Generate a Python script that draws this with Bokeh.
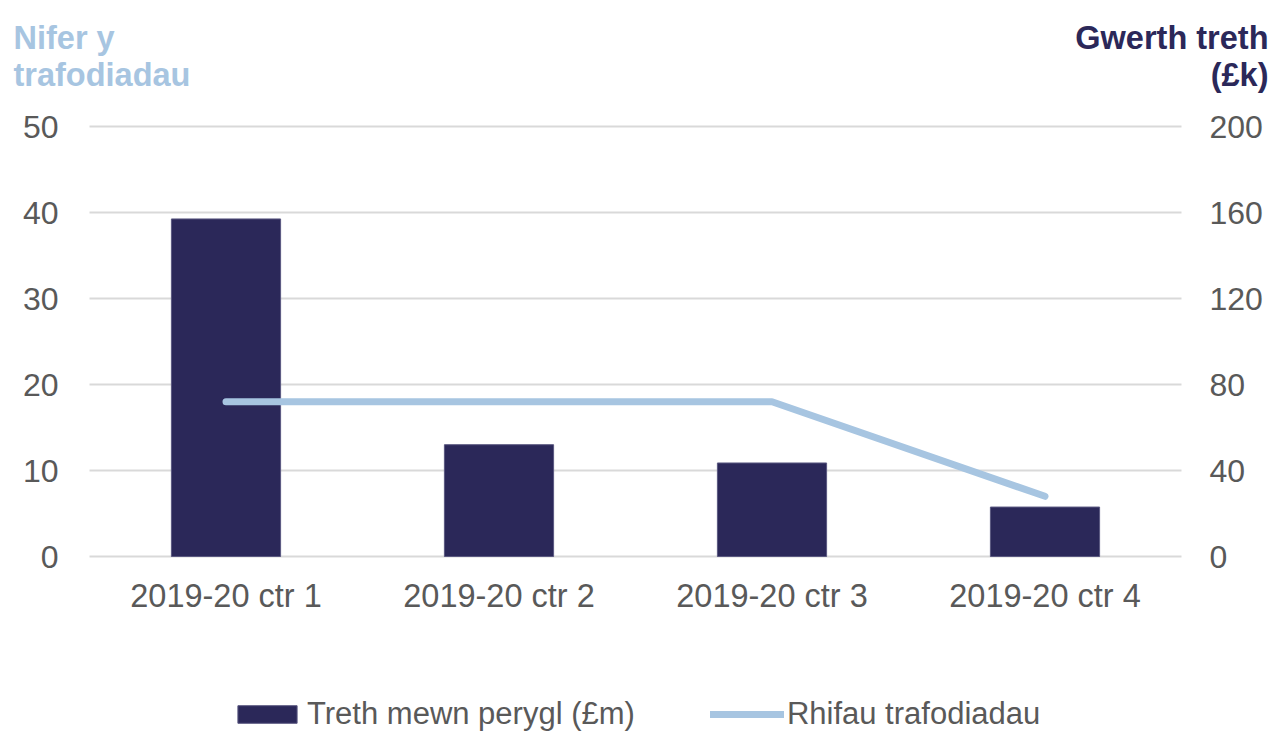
from bokeh.plotting import figure
from bokeh.models import (LinearAxis, Range1d, Legend, LegendItem, Label,
                          FactorRange, FixedTicker)
from bokeh.embed import file_html
from bokeh.resources import INLINE

# ---- data ----
quarters = ["2019-20 ctr 1", "2019-20 ctr 2", "2019-20 ctr 3", "2019-20 ctr 4"]
tax_value = [157, 52, 43.5, 23]          # bars, right axis (Gwerth treth £k)
transactions = [18, 18, 18, 7]           # line, left axis (Nifer y trafodiadau)
left_ticks = [0, 10, 20, 30, 40, 50]
right_ticks = [0, 40, 80, 120, 160, 200]
bar_label = "Treth mewn perygl (£m)"
line_label = "Rhifau trafodiadau"
left_title = ["Nifer y", "trafodiadau"]
right_title = ["Gwerth treth", "(£k)"]

FONT = "Liberation Sans"
NAVY = "#2B2859"
LIGHT = "#A7C5E1"
GREY = "#595959"
GRID = "#D9D9D9"

W, H = 1273, 733
PX_PER_UNIT = 8.6          # left-axis scale (pixels per unit)
Y0_PX, BAND_PX = 556, 273  # pixel row of value 0, width of one category band

# frame spans the whole canvas; value 0 sits Y0_PX from the top
y_start = -(H - Y0_PX) / PX_PER_UNIT
y_end = y_start + H / PX_PER_UNIT

p = figure(x_range=FactorRange(*quarters, range_padding=89 / BAND_PX,
                               range_padding_units="absolute"),
           y_range=Range1d(y_start, y_end),
           width=W, height=H, output_backend="svg", toolbar_location=None,
           min_border=0, min_border_left=0, min_border_right=3,
           min_border_top=0, min_border_bottom=0)
p.extra_y_ranges = {"right": Range1d(y_start * 4, y_end * 4)}
p.outline_line_color = None
p.xgrid.visible = False
p.ygrid.visible = False

# horizontal gridlines spanning the category bands
n = len(left_ticks)
p.segment(x0=[0] * n, x1=[len(quarters)] * n, y0=left_ticks, y1=left_ticks,
          line_color=GRID, line_width=2)

bars = p.vbar(x=quarters, top=tax_value, width=0.4, y_range_name="right",
              fill_color=NAVY, line_color="#5A5880", line_width=1)
line = p.line(x=quarters, y=transactions, line_width=7, line_color=LIGHT,
              line_cap="round", line_join="round")

right_axis = LinearAxis(y_range_name="right", ticker=FixedTicker(ticks=right_ticks))
p.add_layout(right_axis, "right")
p.yaxis[0].ticker = FixedTicker(ticks=left_ticks)

for ax in [p.xaxis[0], p.yaxis[0], right_axis]:
    ax.axis_line_color = None
    ax.major_tick_line_color = None
    ax.minor_tick_line_color = None
    ax.major_tick_out = 0
    ax.major_tick_in = 0
    ax.minor_tick_out = 0
    ax.minor_tick_in = 0
    ax.major_label_text_font = FONT
    ax.major_label_text_font_size = "32px"
    ax.major_label_text_color = GREY
p.xaxis[0].major_label_text_font_size = "32.5px"

p.xaxis[0].fixed_location = 0
p.yaxis[0].fixed_location = 0
right_axis.fixed_location = len(quarters)
p.yaxis[0].major_label_standoff = 31
right_axis.major_label_standoff = 28
p.xaxis[0].major_label_standoff = 21

# axis titles (screen units: from frame bottom-left, y upward)
for i, t in enumerate(left_title):
    p.add_layout(Label(x=13, y=H - 37 - 37 * i, x_units="screen", y_units="screen",
                       text=t, text_font=FONT, text_font_style="bold",
                       text_font_size="32.5px", text_color=LIGHT,
                       text_align="left", text_baseline="alphabetic"))
for i, t in enumerate(right_title):
    p.add_layout(Label(x=1268, y=H - 37 - 37 * i, x_units="screen", y_units="screen",
                       text=t, text_font=FONT, text_font_style="bold",
                       text_font_size="32.5px", text_color=NAVY,
                       text_align="right", text_baseline="alphabetic"))

legend = Legend(items=[LegendItem(label=bar_label, renderers=[bars]),
                       LegendItem(label=line_label, renderers=[line])],
                orientation="horizontal", location=(230, 1),
                border_line_color=None, background_fill_alpha=0,
                label_text_font=FONT, label_text_font_size="31px",
                label_text_color=GREY, glyph_width=74, glyph_height=22,
                label_height=36, spacing=75, label_standoff=3,
                padding=0, margin=0)
p.add_layout(legend, "center")

open("out.html", "w").write(file_html(p, INLINE))
